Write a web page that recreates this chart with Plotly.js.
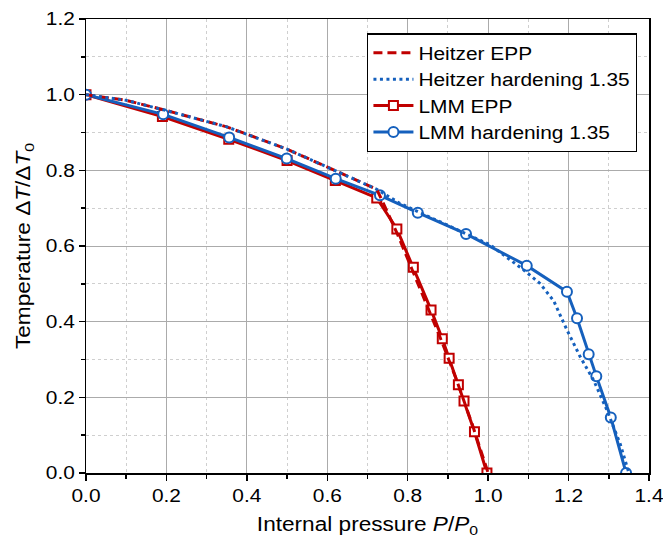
<!DOCTYPE html>
<html>
<head>
<meta charset="utf-8">
<script src="https://cdn.plot.ly/plotly-3.0.1.min.js"></script>
<style>html,body{margin:0;padding:0;background:#fff;}#chart{width:663px;height:548px;}</style>
</head>
<body>
<div id="chart"></div>
<script>
// Heitzer EPP (dashed red)
const heitzerEppX = [0, 0.1, 0.2, 0.35, 0.5, 0.624, 0.723, 0.745, 0.775, 0.81, 0.85, 0.88, 0.92, 0.96, 1.0];
const heitzerEppY = [1.0, 0.985, 0.958, 0.915, 0.856, 0.797, 0.75, 0.70, 0.63, 0.54, 0.44, 0.36, 0.25, 0.13, 0.0];
// Heitzer hardening 1.35 (dotted blue)
const heitzerHardX = [0, 0.1, 0.2, 0.35, 0.5, 0.624, 0.723, 0.78, 0.905, 1.005, 1.088, 1.129, 1.163, 1.196, 1.229, 1.262, 1.295, 1.328, 1.35];
const heitzerHardY = [1.0, 0.985, 0.958, 0.915, 0.856, 0.797, 0.75, 0.713, 0.651, 0.603, 0.537, 0.501, 0.455, 0.378, 0.307, 0.246, 0.167, 0.078, 0.0];
// LMM EPP (red squares)
const lmmEppX = [0, 0.19, 0.355, 0.5, 0.62, 0.723, 0.773, 0.814, 0.858, 0.886, 0.903, 0.926, 0.940, 0.966, 0.997];
const lmmEppY = [1.0, 0.942, 0.882, 0.826, 0.773, 0.727, 0.645, 0.544, 0.431, 0.355, 0.303, 0.233, 0.190, 0.109, 0.0];
// LMM hardening 1.35 (blue circles)
const lmmHardX = [0, 0.192, 0.356, 0.499, 0.621, 0.731, 0.825, 0.945, 1.096, 1.196, 1.221, 1.25, 1.269, 1.305, 1.343];
const lmmHardY = [1.0, 0.948, 0.887, 0.831, 0.778, 0.734, 0.688, 0.632, 0.548, 0.479, 0.409, 0.314, 0.256, 0.147, 0.0];

const RED = '#c00000';
const BLUE = '#1560bd';
const FONT = 'Liberation Sans, Arial, sans-serif';
const STRETCH = 1.16;

const traces = [
  {x: lmmEppX, y: lmmEppY, name: 'LMM EPP', mode: 'lines+markers', legendrank: 3,
   line: {color: RED, width: 3},
   marker: {symbol: 'square', size: 9, color: '#ffffff', line: {color: RED, width: 2}}},
  {x: lmmHardX, y: lmmHardY, name: 'LMM hardening 1.35', mode: 'lines+markers', legendrank: 4,
   line: {color: BLUE, width: 3},
   marker: {symbol: 'circle', size: 10, color: '#ffffff', line: {color: BLUE, width: 2}}},
  {x: heitzerEppX, y: heitzerEppY, name: 'Heitzer EPP', mode: 'lines', legendrank: 1,
   line: {color: RED, width: 3, dash: '9px,5px'}},
  {x: heitzerHardX, y: heitzerHardY, name: 'Heitzer hardening 1.35', mode: 'lines', legendrank: 2,
   line: {color: BLUE, width: 3, dash: '3px,3.5px'}}
];

const axisCommon = {
  showline: true, linecolor: '#000', linewidth: 1.5, mirror: true,
  ticks: 'outside', ticklen: 6, tickwidth: 1.5, tickcolor: '#000',
  showgrid: true, gridcolor: '#ababab', gridwidth: 1,
  zeroline: false,
  tickfont: {family: FONT, size: 18, color: '#000'},
  minor: {dtick: 0.1, ticks: 'outside', ticklen: 4, tickwidth: 1.5, tickcolor: '#000',
          showgrid: true, gridcolor: '#cfcfcf', gridwidth: 1, griddash: '3px,3px'}
};

const layout = {
  width: 663, height: 548,
  margin: {l: 86, r: 14, t: 19, b: 75},
  paper_bgcolor: '#ffffff', plot_bgcolor: '#ffffff',
  font: {family: FONT, color: '#000'},
  xaxis: Object.assign({}, axisCommon, {
    range: [0, 1.4], dtick: 0.2, tick0: 0, tickformat: '.1f',
    title: {text: 'Internal pressure <i>P</i>/<i>P</i><sub>0</sub>', font: {size: 19.5}, standoff: 12}
  }),
  yaxis: Object.assign({}, axisCommon, {
    range: [0, 1.2], dtick: 0.2, tick0: 0, tickformat: '.1f',
    title: {text: 'Temperature Δ<i>T</i>/Δ<i>T</i><sub>0</sub>', font: {size: 19.5}, standoff: 14}
  }),
  showlegend: true,
  legend: {
    x: 0.499, y: 0.969, xanchor: 'left', yanchor: 'top',
    bgcolor: '#ffffff', bordercolor: '#000', borderwidth: 1.5,
    font: {size: 18, family: FONT, color: '#000'},
    itemwidth: 40, tracegroupgap: 0
  }
};

function stretchText(el, s) {
  const x = parseFloat(el.getAttribute('x')) || 0;
  const y = parseFloat(el.getAttribute('y')) || 0;
  const prev = el.getAttribute('transform') || '';
  el.setAttribute('transform', prev + ' translate(' + x + ',' + y + ') scale(' + s + ',1) translate(' + (-x) + ',' + (-y) + ')');
}

Plotly.newPlot('chart', traces, layout, {displayModeBar: false, staticPlot: true}).then(function (gd) {
  const root = gd.querySelector('.main-svg') ? gd : document;
  // axis tick labels and titles
  gd.querySelectorAll('text.xtick, text.ytick, .xtick text, .ytick text, text.xtitle, text.ytitle').forEach(function (el) {
    stretchText(el, STRETCH);
  });
  // legend texts
  let extra = 0;
  gd.querySelectorAll('.legend text.legendtext').forEach(function (el) {
    const w = el.getBBox().width;
    extra = Math.max(extra, (STRETCH - 1) * w);
    stretchText(el, STRETCH);
  });
  const bg = gd.querySelector('.legend rect.bg');
  if (bg) {
    const w = parseFloat(bg.getAttribute('width')) || 0;
    bg.setAttribute('width', w + extra);
  }
  gd.querySelectorAll('.legend .scrollbox').forEach(function (sb) { sb.removeAttribute('clip-path'); });
  gd.querySelectorAll('.legend').forEach(function (lg) { lg.removeAttribute('clip-path'); });
});
</script>
</body>
</html>
